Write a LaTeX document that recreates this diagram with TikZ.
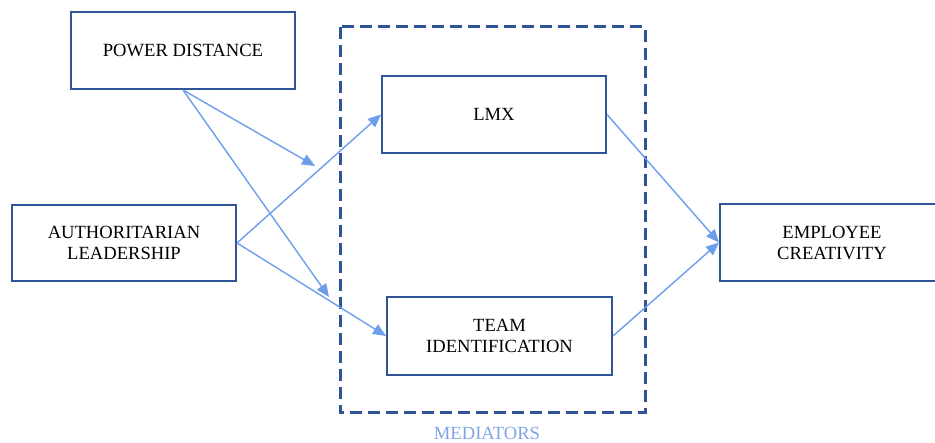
\documentclass[tikz,border=0pt]{standalone}
\usepackage{fontspec}
\setmainfont{Liberation Serif}
\usetikzlibrary{arrows.meta}
\definecolor{boxblue}{HTML}{2F5597}
\definecolor{arrblue}{HTML}{6D9EEB}
\definecolor{labblue}{HTML}{7FA6E6}
\begin{document}
\begin{tikzpicture}[x=1pt,y=-1pt,
  varbox/.style={draw=boxblue, line width=2pt, fill=white, minimum width=224pt, minimum height=77pt, align=center, inner sep=0pt, font=\fontsize{18.6}{21}\selectfont},
  conn/.style={draw=arrblue, line width=1.4pt, -{Triangle[length=13pt,width=11pt]}}]
\useasboundingbox (0,0) rectangle (935,443);
\clip (0,0) rectangle (935,443);
\draw[boxblue, line width=3pt, dash pattern=on 12pt off 6pt] (340,27) rectangle (645,413);
\node[varbox] (pd) at (183,50.5) {POWER DISTANCE};
\node[varbox] (lmx) at (494,114.5) {LMX};
\node[varbox, minimum height=76pt] (al) at (124,243) {AUTHORITARIAN\\LEADERSHIP};
\node[varbox, minimum width=225pt, minimum height=78pt] (team) at (499.5,336) {TEAM\\IDENTIFICATION};
\node[varbox] (ec) at (832,242.5) {EMPLOYEE\\CREATIVITY};
\node[text=labblue, font=\fontsize{18.6}{21}\selectfont] (med) at (487,433) {MEDIATORS};
\coordinate (m1) at (315,166);
\coordinate (m2) at (329,297);
\draw[conn] (pd.south) -- (m1);
\draw[conn] (pd.south) -- (m2);
\draw[conn] (al.east) -- (lmx.west);
\draw[conn] (al.east) -- (team.west);
\draw[conn] (lmx.east) -- (ec.west);
\draw[conn] (team.east) -- (ec.west);
\end{tikzpicture}
\end{document}
